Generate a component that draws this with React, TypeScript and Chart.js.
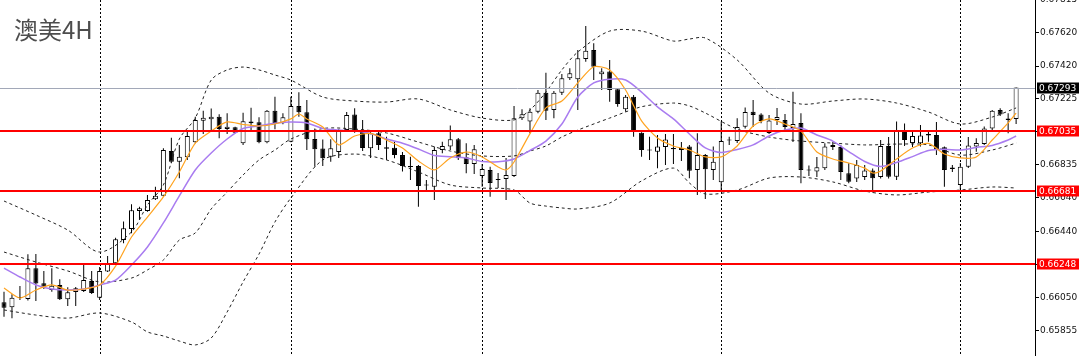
import React, { useEffect, useRef } from 'react';
import { Chart, registerables } from 'chart.js';

Chart.register(...registerables);

// ---- Candles (AUDUSD H4), index 0..127 ----
const opens = [
  0.66021, 0.65992, 0.66053, 0.66041, 0.66223, 0.66134, 0.66094, 0.66124, 0.66039, 0.66082,
  0.66088, 0.66148, 0.66049, 0.66203, 0.66252, 0.66390, 0.66455, 0.66562, 0.66562, 0.66631,
  0.66652, 0.66917, 0.66854, 0.66880, 0.66969, 0.67096, 0.67105, 0.67120, 0.67047, 0.67057,
  0.66963, 0.67091, 0.67087, 0.66969, 0.67156, 0.67081, 0.66972, 0.67184, 0.67146, 0.66988,
  0.66932, 0.66883, 0.66911, 0.67041, 0.67133, 0.67030, 0.66933, 0.67022, 0.66939, 0.66937,
  0.66893, 0.66828, 0.66828, 0.66713, 0.66706, 0.66923, 0.66944, 0.66986, 0.66880, 0.66840,
  0.66769, 0.66805, 0.66748, 0.66751, 0.66769, 0.67111, 0.67091, 0.67150, 0.67262, 0.67160,
  0.67262, 0.67348, 0.67342, 0.67462, 0.67515, 0.67371, 0.67387, 0.67282, 0.67164, 0.67238,
  0.67025, 0.66926, 0.66913, 0.66941, 0.66935, 0.66923, 0.66943, 0.66805, 0.66893, 0.66805,
  0.66732, 0.66985, 0.66976, 0.67061, 0.67150, 0.67133, 0.67024, 0.67101, 0.67101, 0.67053,
  0.67083, 0.66808, 0.66795, 0.66815, 0.66941, 0.66941, 0.66785, 0.66754, 0.66763, 0.66802,
  0.66763, 0.66947, 0.66765, 0.67038, 0.66964, 0.66963, 0.67018, 0.67012, 0.66939, 0.66811,
  0.66716, 0.66824, 0.66943, 0.66958, 0.67051, 0.67160, 0.67110, 0.67107,
];
const highs = [
  0.66084, 0.66069, 0.66118, 0.66306, 0.66307, 0.66207, 0.66223, 0.66158, 0.66110, 0.66112,
  0.66245, 0.66207, 0.66230, 0.66296, 0.66404, 0.66499, 0.66602, 0.66587, 0.66657, 0.66706,
  0.66933, 0.66996, 0.66953, 0.67031, 0.67120, 0.67156, 0.67168, 0.67134, 0.67140, 0.67061,
  0.67144, 0.67173, 0.67117, 0.67160, 0.67238, 0.67140, 0.67238, 0.67265, 0.67219, 0.67051,
  0.66985, 0.66986, 0.67047, 0.67148, 0.67170, 0.67101, 0.67041, 0.67031, 0.67002, 0.66972,
  0.66911, 0.66883, 0.66834, 0.66745, 0.66943, 0.66972, 0.67068, 0.66994, 0.66963, 0.66953,
  0.66840, 0.66824, 0.66787, 0.66876, 0.67184, 0.67164, 0.67170, 0.67278, 0.67381, 0.67272,
  0.67373, 0.67407, 0.67515, 0.67657, 0.67555, 0.67407, 0.67456, 0.67290, 0.67249, 0.67249,
  0.67028, 0.67002, 0.67012, 0.67018, 0.67018, 0.66970, 0.66953, 0.67022, 0.66899, 0.66943,
  0.67091, 0.67002, 0.67111, 0.67175, 0.67219, 0.67140, 0.67130, 0.67172, 0.67136, 0.67268,
  0.67140, 0.66831, 0.66882, 0.66963, 0.66972, 0.66953, 0.66844, 0.66864, 0.66834, 0.66813,
  0.66982, 0.67000, 0.67091, 0.67080, 0.67035, 0.67071, 0.67031, 0.67089, 0.66943, 0.66834,
  0.66846, 0.67000, 0.66992, 0.67062, 0.67160, 0.67170, 0.67140, 0.67293,
];
const lows = [
  0.65936, 0.65927, 0.66035, 0.66032, 0.66029, 0.66100, 0.66084, 0.66035, 0.65999, 0.65999,
  0.66082, 0.66070, 0.66035, 0.66201, 0.66248, 0.66371, 0.66430, 0.66509, 0.66558, 0.66627,
  0.66646, 0.66844, 0.66756, 0.66864, 0.66963, 0.67018, 0.67041, 0.66992, 0.67018, 0.67022,
  0.66953, 0.67041, 0.66963, 0.66963, 0.67046, 0.67075, 0.66969, 0.67120, 0.66923, 0.66824,
  0.66828, 0.66854, 0.66876, 0.67030, 0.67025, 0.66917, 0.66876, 0.66923, 0.66864, 0.66874,
  0.66795, 0.66745, 0.66587, 0.66686, 0.66627, 0.66904, 0.66923, 0.66864, 0.66785, 0.66781,
  0.66706, 0.66646, 0.66698, 0.66627, 0.66763, 0.67101, 0.67022, 0.67140, 0.67101, 0.67111,
  0.67249, 0.67337, 0.67160, 0.67446, 0.67337, 0.67278, 0.67209, 0.67179, 0.67150, 0.67002,
  0.66883, 0.66864, 0.66815, 0.66834, 0.66840, 0.66858, 0.66756, 0.66657, 0.66633, 0.66745,
  0.66686, 0.66953, 0.66964, 0.67051, 0.67059, 0.67081, 0.67018, 0.67071, 0.67030, 0.66970,
  0.66726, 0.66769, 0.66763, 0.66805, 0.66923, 0.66745, 0.66726, 0.66734, 0.66745, 0.66671,
  0.66754, 0.66754, 0.66745, 0.66947, 0.66941, 0.66943, 0.66972, 0.66893, 0.66706, 0.66793,
  0.66692, 0.66816, 0.66913, 0.66953, 0.67041, 0.67124, 0.67022, 0.67077,
];
const closes = [
  0.65989, 0.66049, 0.66047, 0.66223, 0.66133, 0.66114, 0.66120, 0.66039, 0.66081, 0.66104,
  0.66153, 0.66076, 0.66207, 0.66252, 0.66394, 0.66460, 0.66566, 0.66578, 0.66627, 0.66652,
  0.66923, 0.66854, 0.66883, 0.67006, 0.67101, 0.67114, 0.67120, 0.67047, 0.67061, 0.67025,
  0.67093, 0.67081, 0.66969, 0.67156, 0.67081, 0.67117, 0.67184, 0.67146, 0.66986, 0.66927,
  0.66874, 0.66933, 0.67035, 0.67130, 0.67035, 0.66935, 0.67022, 0.66953, 0.66931, 0.66893,
  0.66828, 0.66822, 0.66710, 0.66719, 0.66923, 0.66947, 0.66986, 0.66874, 0.66840, 0.66927,
  0.66811, 0.66728, 0.66745, 0.66775, 0.67111, 0.67134, 0.67150, 0.67262, 0.67156, 0.67262,
  0.67348, 0.67377, 0.67466, 0.67511, 0.67416, 0.67387, 0.67278, 0.67195, 0.67238, 0.67035,
  0.66923, 0.66920, 0.66943, 0.66985, 0.66927, 0.66935, 0.66800, 0.66893, 0.66809, 0.66854,
  0.66976, 0.66979, 0.67059, 0.67148, 0.67130, 0.67095, 0.67098, 0.67118, 0.67059, 0.67077,
  0.66805, 0.66802, 0.66821, 0.66943, 0.66953, 0.66793, 0.66735, 0.66834, 0.66802, 0.66756,
  0.66947, 0.66765, 0.67041, 0.66982, 0.67006, 0.67009, 0.67009, 0.66923, 0.66805, 0.66819,
  0.66824, 0.66950, 0.66964, 0.67050, 0.67156, 0.67133, 0.67101, 0.67293,
];

// ---- Fast MA (orange), read at candle indices ----
const fastMaIdx = [
  0, 2, 4, 6, 8, 10, 12, 14, 16, 18, 20, 22, 24, 26, 28, 30, 32, 34, 36, 37, 38, 40, 42, 44, 46, 48,
  50, 52, 54, 56, 58, 60, 62, 63, 64, 66, 68, 70, 72, 74, 76, 78, 80, 82, 84, 86, 88, 90, 92, 94, 96,
  98, 100, 102, 104, 106, 108, 109, 110, 112, 114, 116, 118, 120, 122, 124, 126, 127,
];
const fastMa = [
  0.66106, 0.66047, 0.66094, 0.66124, 0.66094, 0.66100, 0.66124, 0.66236, 0.66408, 0.66526, 0.66645,
  0.66793, 0.66964, 0.67035, 0.67089, 0.67074, 0.67065, 0.67077, 0.67107, 0.67136, 0.67107, 0.67059,
  0.66953, 0.67006, 0.67021, 0.66982, 0.66935, 0.66858, 0.66805, 0.66876, 0.66911, 0.66882, 0.66822,
  0.66805, 0.66852, 0.67020, 0.67172, 0.67213, 0.67320, 0.67416, 0.67397, 0.67278, 0.67095, 0.66994,
  0.66947, 0.66923, 0.66882, 0.66882, 0.66947, 0.67065, 0.67107, 0.67077, 0.67035, 0.66911, 0.66870,
  0.66846, 0.66816, 0.66787, 0.66799, 0.66870, 0.66935, 0.66962, 0.66899, 0.66876, 0.66882, 0.66982,
  0.67083, 0.67142,
];

// ---- Slow MA (purple) ----
const slowMaIdx = [
  0, 2, 4, 6, 8, 10, 12, 14, 16, 18, 20, 22, 24, 26, 28, 30, 32, 34, 36, 38, 40, 42, 44, 46, 48, 50,
  52, 54, 56, 58, 60, 62, 64, 66, 68, 70, 72, 74, 76, 78, 80, 82, 84, 86, 88, 90, 92, 94, 96, 98, 100,
  102, 104, 106, 108, 110, 112, 114, 116, 118, 120, 122, 124, 126, 127,
];
const slowMa = [
  0.66224, 0.66171, 0.66124, 0.66100, 0.66094, 0.66100, 0.66124, 0.66153, 0.66242, 0.66349, 0.66491,
  0.66651, 0.66805, 0.66905, 0.66988, 0.67050, 0.67065, 0.67081, 0.67089, 0.67083, 0.67050, 0.67041,
  0.67035, 0.67021, 0.66988, 0.66963, 0.66929, 0.66890, 0.66883, 0.66876, 0.66855, 0.66854, 0.66870,
  0.66920, 0.66976, 0.67077, 0.67237, 0.67320, 0.67342, 0.67337, 0.67266, 0.67178, 0.67107, 0.67018,
  0.66935, 0.66908, 0.66926, 0.66953, 0.67006, 0.67041, 0.67053, 0.67012, 0.66976, 0.66914, 0.66855,
  0.66825, 0.66849, 0.66884, 0.66920, 0.66927, 0.66923, 0.66938, 0.66950, 0.66982, 0.67006,
];

// ---- Bollinger bands (dashed) ----
const bandIdx = [
  0, 4, 8, 12, 16, 18, 20, 22, 24, 26, 28, 30, 32, 34, 36, 40, 44, 48, 52, 56, 60, 64, 66, 68, 70,
  72, 76, 80, 84, 86, 88, 92, 96, 100, 104, 108, 112, 116, 120, 124, 127,
];
const bandUpper = [
  0.66621, 0.66538, 0.66449, 0.66319, 0.66438, 0.66597, 0.66716, 0.66988, 0.67112, 0.67337, 0.67397,
  0.67414, 0.67397, 0.67367, 0.67337, 0.67237, 0.67213, 0.67207, 0.67225, 0.67160, 0.67112, 0.67101,
  0.67160, 0.67266, 0.67397, 0.67503, 0.67627, 0.67627, 0.67568, 0.67580, 0.67586, 0.67456, 0.67260,
  0.67195, 0.67213, 0.67225, 0.67201, 0.67148, 0.67077, 0.67118, 0.67172,
];
const bandMid = [
  0.66319, 0.66260, 0.66207, 0.66142, 0.66165, 0.66213, 0.66272, 0.66390, 0.66432, 0.66574, 0.66674,
  0.66775, 0.66864, 0.66923, 0.66988, 0.67050, 0.67047, 0.67024, 0.66970, 0.66917, 0.66888, 0.66888,
  0.66917, 0.66947, 0.67000, 0.67041, 0.67112, 0.67179, 0.67201, 0.67184, 0.67142, 0.67047, 0.67000,
  0.66976, 0.66964, 0.66953, 0.66958, 0.66953, 0.66893, 0.66923, 0.66964,
];
const bandLower = [
  0.65976, 0.65946, 0.65928, 0.65958, 0.65905, 0.65846, 0.65822, 0.65792, 0.65769, 0.65810, 0.65964,
  0.66142, 0.66307, 0.66497, 0.66639, 0.66864, 0.66899, 0.66864, 0.66793, 0.66716, 0.66698, 0.66686,
  0.66609, 0.66591, 0.66580, 0.66574, 0.66609, 0.66740, 0.66816, 0.66728, 0.66663, 0.66686, 0.66757,
  0.66763, 0.66734, 0.66680, 0.66657, 0.66674, 0.66686, 0.66704, 0.66698,
];

// ---- Axis / annotations ----
const yTicks = [0.67815, 0.6762, 0.6742, 0.67225, 0.6703, 0.66835, 0.6664, 0.6644, 0.66245, 0.6605, 0.65855];
const levelLines = [0.67035, 0.66681, 0.66248];
const lastPrice = 0.67293;
const separatorIdx = [12, 36, 60, 90, 120];
const chartTitle = '澳美4H';

const Y_MIN = 0.657035;
const Y_MAX = 0.67811;
const X_MIN = -0.502;
const X_MAX = 129.37;
const AXIS_FONT = '"DejaVu Sans", sans-serif';

export default function App() {
  const ref = useRef<HTMLCanvasElement | null>(null);

  useEffect(() => {
    if (!ref.current) return;
    const idx = opens.map((_, i) => i);
    const wickData = idx.map((i) => ({ x: i, y: [lows[i], highs[i]] }));
    const bodyData = idx.map((i) => ({ x: i, y: [opens[i], closes[i]] }));
    const bodyFill = idx.map((i) => (closes[i] >= opens[i] ? '#ffffff' : '#000000'));
    const pts = (ix: number[], v: number[]) => ix.map((x, k) => ({ x, y: v[k] }));

    const overlay = {
      id: 'overlay',
      beforeDatasetsDraw(chart: any) {
        const { ctx, chartArea: ca, scales } = chart;
        ctx.save();
        ctx.strokeStyle = '#000';
        ctx.lineWidth = 1;
        ctx.setLineDash([2, 2]);
        for (const i of separatorIdx) {
          const px = Math.round(scales.x.getPixelForValue(i)) + 0.5;
          ctx.beginPath();
          ctx.moveTo(px, ca.top);
          ctx.lineTo(px, ca.bottom);
          ctx.stroke();
        }
        ctx.restore();
      },
      afterDatasetsDraw(chart: any) {
        const { ctx, chartArea: ca, scales } = chart;
        ctx.save();
        const gy = Math.round(scales.y.getPixelForValue(lastPrice)) + 0.5;
        ctx.strokeStyle = '#a2a8b8';
        ctx.lineWidth = 1;
        ctx.beginPath();
        ctx.moveTo(ca.left, gy);
        ctx.lineTo(ca.right, gy);
        ctx.stroke();
        ctx.strokeStyle = '#ff0000';
        ctx.lineWidth = 2;
        for (const v of levelLines) {
          const py = Math.round(scales.y.getPixelForValue(v));
          ctx.beginPath();
          ctx.moveTo(ca.left, py);
          ctx.lineTo(ca.right, py);
          ctx.stroke();
        }
        ctx.restore();
      },
      afterDraw(chart: any) {
        const { ctx, chartArea: ca, scales } = chart;
        ctx.save();
        ctx.font = `9px ${AXIS_FONT}`;
        ctx.textBaseline = 'middle';
        ctx.textAlign = 'left';
        const box = (v: number, bg: string) => {
          const py = Math.round(scales.y.getPixelForValue(v));
          ctx.fillStyle = bg;
          ctx.fillRect(ca.right + 2, py - 5.5, 42, 11);
          ctx.fillStyle = '#ffffff';
          ctx.fillText(v.toFixed(5), ca.right + 4, py + 0.5);
        };
        box(lastPrice, '#000000');
        levelLines.forEach((v) => box(v, '#ff0000'));
        ctx.restore();
      },
    };

    const chart = new Chart(ref.current, {
      type: 'bar',
      data: {
        datasets: [
          {
            type: 'bar',
            data: wickData as any,
            backgroundColor: '#000000',
            borderWidth: 0,
            barThickness: 1,
            grouped: false,
            inflateAmount: 0,
            order: 6,
          } as any,
          {
            type: 'bar',
            data: bodyData as any,
            backgroundColor: bodyFill,
            borderColor: '#000000',
            borderWidth: 1,
            borderSkipped: false,
            barThickness: 5,
            minBarLength: 1,
            grouped: false,
            inflateAmount: 0,
            order: 5,
          } as any,
          {
            type: 'line',
            data: pts(bandIdx, bandUpper) as any,
            borderColor: '#222222',
            borderWidth: 1,
            borderDash: [3, 3],
            pointRadius: 0,
            tension: 0.3,
            order: 4,
          } as any,
          {
            type: 'line',
            data: pts(bandIdx, bandMid) as any,
            borderColor: '#222222',
            borderWidth: 1,
            borderDash: [3, 3],
            pointRadius: 0,
            tension: 0.3,
            order: 4,
          } as any,
          {
            type: 'line',
            data: pts(bandIdx, bandLower) as any,
            borderColor: '#222222',
            borderWidth: 1,
            borderDash: [3, 3],
            pointRadius: 0,
            tension: 0.3,
            order: 4,
          } as any,
          {
            type: 'line',
            data: pts(slowMaIdx, slowMa) as any,
            borderColor: '#a97cf0',
            borderWidth: 1.5,
            pointRadius: 0,
            tension: 0.25,
            order: 2,
          } as any,
          {
            type: 'line',
            data: pts(fastMaIdx, fastMa) as any,
            borderColor: '#ffa31f',
            borderWidth: 1.2,
            pointRadius: 0,
            tension: 0.25,
            order: 1,
          } as any,
        ],
      },
      options: {
        responsive: false,
        animation: false,
        devicePixelRatio: 1,
        events: [],
        layout: { padding: 0, autoPadding: false } as any,
        plugins: { legend: { display: false }, tooltip: { enabled: false }, title: { display: false } },
        scales: {
          x: {
            type: 'linear',
            display: false,
            min: X_MIN,
            max: X_MAX,
            offset: false,
          },
          y: {
            type: 'linear',
            position: 'right',
            min: Y_MIN,
            max: Y_MAX,
            afterBuildTicks: (s: any) => {
              s.ticks = yTicks.map((v) => ({ value: v }));
            },
            afterFit: (s: any) => {
              s.width = 45;
              s.paddingTop = 0;
              s.paddingBottom = 0;
            },
            grid: { drawOnChartArea: false, drawTicks: true, tickLength: 4, color: '#000000' },
            border: { display: true, color: '#000000', width: 1 },
            ticks: {
              autoSkip: false,
              maxRotation: 0,
              padding: 1,
              color: '#111111',
              font: { family: AXIS_FONT, size: 9 },
              callback: (v: any) => Number(v).toFixed(5),
            },
          } as any,
        },
      },
      plugins: [overlay as any],
    });

    return () => chart.destroy();
  }, []);

  return (
    <div style={{ position: 'fixed', left: 0, top: 0, width: 1080, height: 356, background: '#ffffff' }}>
      <canvas ref={ref} width={1080} height={356} style={{ display: 'block', width: 1080, height: 356 }} />
      <div
        style={{
          position: 'absolute',
          left: 14,
          top: 17,
          fontFamily: '"Noto Sans CJK SC", sans-serif',
          fontSize: 24,
          lineHeight: '24px',
          color: '#4d4d4d',
          whiteSpace: 'nowrap',
        }}
      >
        {chartTitle}
      </div>
    </div>
  );
}
